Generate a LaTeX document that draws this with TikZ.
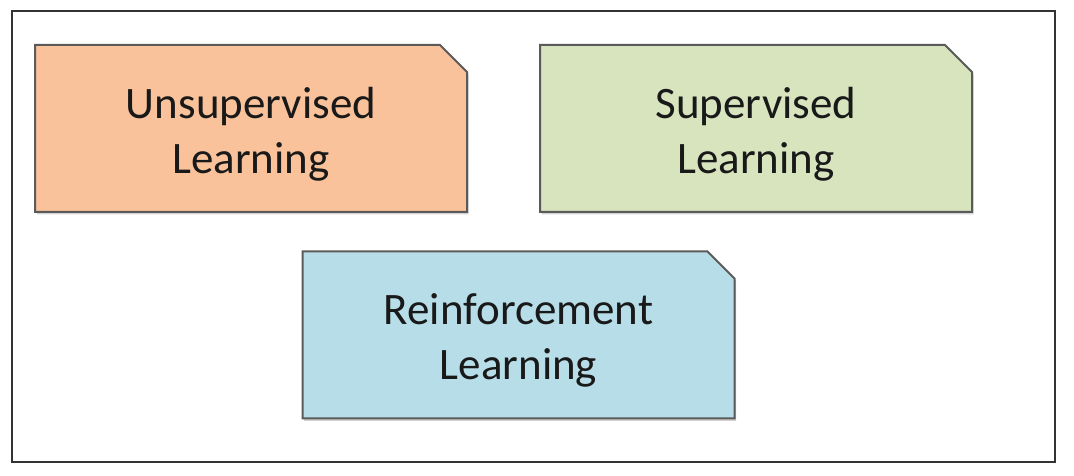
\documentclass[tikz,border=0pt]{standalone}
\usepackage{fontspec}
\setmainfont{Carlito}
\usetikzlibrary{shapes.misc,shadows}
\definecolor{unsupcolor}{HTML}{F9C29A}
\definecolor{supcolor}{HTML}{D7E4BD}
\definecolor{reinfcolor}{HTML}{B7DEE8}
\definecolor{edgegray}{HTML}{5A5A5A}
\newcommand{\boxlift}{\rule{0pt}{42pt}}

\begin{document}
\begin{tikzpicture}[x=1pt, y=1pt, kind/.style={chamfered rectangle, chamfered rectangle corners=north east, chamfered rectangle xsep=13.5pt, chamfered rectangle ysep=13.5pt, draw=edgegray, line width=2pt, minimum width=432pt, minimum height=167pt, inner sep=0pt, align=center, text=black!90, font=\fontsize{45}{55}\selectfont, drop shadow={shadow xshift=1.5pt, shadow yshift=-2.5pt, opacity=0.35}}]
	\useasboundingbox (0,0) rectangle (1074,476);
	\draw[line width=1.5pt, black!80] (12,14) rectangle (1055,465);
	\node[kind, fill=unsupcolor] (unsup) at (251,347.5) {\boxlift Unsupervised\\Learning};
	\node[kind, fill=supcolor] (sup) at (756,347.5) {\boxlift Supervised\\Learning};
	\node[kind, fill=reinfcolor] (reinf) at (518.5,141) {\boxlift Reinforcement\\Learning};
\end{tikzpicture}
\end{document}
